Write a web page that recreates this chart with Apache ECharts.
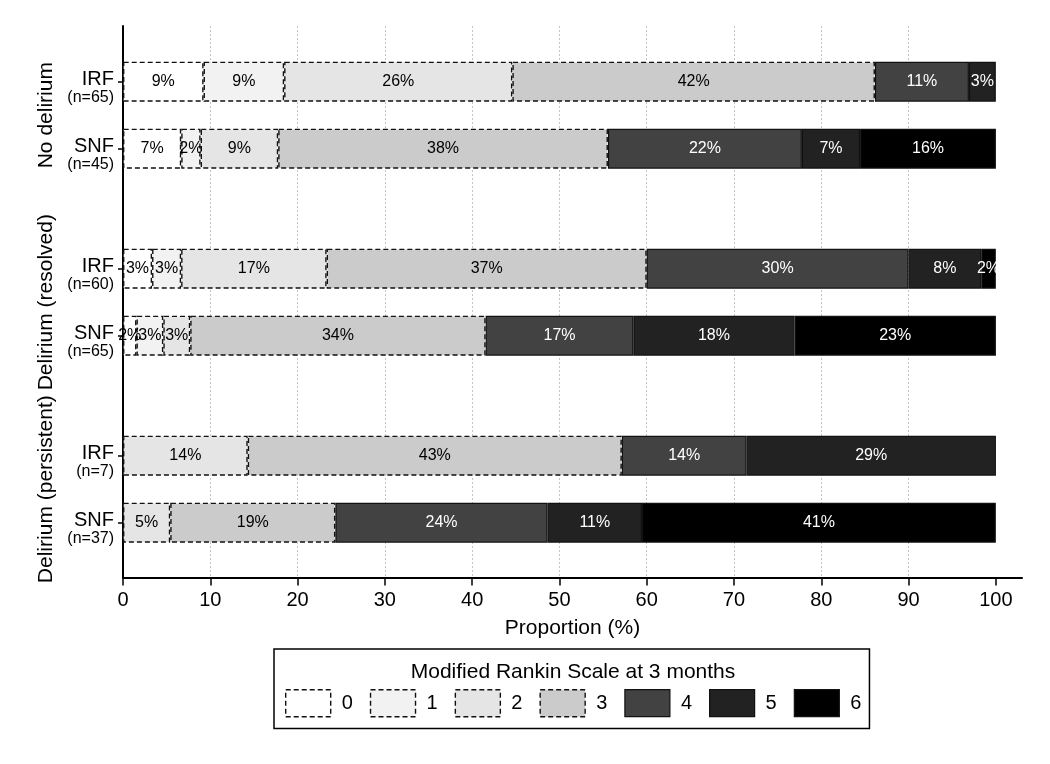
<!DOCTYPE html>
<html>
<head>
<meta charset="utf-8">
<script src="https://cdn.jsdelivr.net/npm/echarts@6/dist/echarts.min.js"></script>
<style>html,body{margin:0;padding:0;background:#fff}#c{width:1050px;height:764px}</style>
</head>
<body>
<div id="c"></div>
<script>
// ---- data (percent of patients at each Modified Rankin Scale level 0..6) ----
const mrsLevels = ['0', '1', '2', '3', '4', '5', '6'];
const groups = ['No delirium', 'Delirium (resolved)', 'Delirium (persistent)'];
const settings = ['IRF', 'SNF'];
const groupN = [[65, 45], [60, 65], [7, 37]];
const noDelIRF = [9.23, 9.23, 26.15, 41.54, 10.77, 3.08, 0];
const noDelSNF = [6.67, 2.22, 8.89, 37.78, 22.22, 6.67, 15.56];
const resIRF = [3.33, 3.33, 16.67, 36.67, 30.00, 8.33, 1.67];
const resSNF = [1.54, 3.08, 3.08, 33.85, 16.92, 18.46, 23.08];
const perIRF = [0, 0, 14.29, 42.86, 14.29, 28.57, 0];
const perSNF = [0, 0, 5.41, 18.92, 24.32, 10.81, 40.54];
const xTicks = [0, 10, 20, 30, 40, 50, 60, 70, 80, 90, 100];

const rows = [[noDelIRF, noDelSNF], [resIRF, resSNF], [perIRF, perSNF]];
const fills = ['#ffffff', '#f2f2f2', '#e5e5e5', '#cbcbcb', '#424242', '#222222', '#000000'];
const FONT = '"Liberation Sans", Arial, sans-serif';

function styleFor(k) {
  const light = k <= 3;
  return {
    color: fills[k],
    borderColor: '#111',
    borderWidth: light ? 1.4 : 1.2,
    borderType: light ? [5, 3] : 'solid'
  };
}

const grids = [];
const xAxes = [];
const yAxes = [];
const series = [];
for (let g = 0; g < 3; g++) {
  grids.push({ left: 123, right: 28, top: 48.2 + g * 187, height: 134 });
  xAxes.push({ gridIndex: g, type: 'value', min: 0, max: 103, show: false });
  yAxes.push({
    gridIndex: g, type: 'category', inverse: true, data: settings,
    name: groups[g], nameLocation: 'middle', nameRotate: 90, nameGap: 64,
    nameTextStyle: { fontSize: 21, color: '#000', fontFamily: FONT },
    axisLine: { show: false },
    axisTick: { show: true, alignWithLabel: true, length: 5, lineStyle: { color: '#000', width: 1.5 } },
    axisLabel: {
      margin: 9, align: 'right', padding: [12, 0, 0, 0],
      formatter: (v, i) => '{a|' + v + '}\n{b|(n=' + groupN[g][i] + ')}',
      rich: {
        a: { fontSize: 20, color: '#000', fontFamily: FONT, align: 'right', lineHeight: 20 },
        b: { fontSize: 16, color: '#000', fontFamily: FONT, align: 'right', lineHeight: 16 }
      }
    }
  });
  for (let k = 0; k < 7; k++) {
    const light = k <= 3;
    series.push({
      name: mrsLevels[k], type: 'bar', xAxisIndex: g, yAxisIndex: g,
      stack: 'grp' + g, barWidth: 40,
      data: [rows[g][0][k], rows[g][1][k]].map(v => v > 0 ? v : '-'),
      itemStyle: styleFor(k),
      label: {
        show: true, position: 'inside', fontSize: 16, fontFamily: FONT,
        color: light ? '#000' : '#fff',
        formatter: p => Math.round(p.value) + '%'
      },
      emphasis: { disabled: true }
    });
  }
}
// background frame grid with the shared x axis, gridlines and y axis line
grids.push({ left: 123, right: 28, top: 26, bottom: 186.5 });
xAxes.push({
  gridIndex: 3, type: 'value', min: 0, max: 103, interval: 10,
  name: 'Proportion (%)', nameLocation: 'middle', nameGap: 40,
  nameTextStyle: { fontSize: 21, color: '#000', fontFamily: FONT },
  axisLine: { show: true, lineStyle: { color: '#000', width: 2 } },
  axisTick: { show: true, length: 8, customValues: xTicks, lineStyle: { color: '#000', width: 1.5 } },
  axisLabel: { fontSize: 20, color: '#000', fontFamily: FONT, margin: 13, customValues: xTicks,
    formatter: v => (v <= 100 ? String(v) : '') },
  splitLine: { show: true, showMinLine: false, showMaxLine: false,
    lineStyle: { color: '#c4c4c4', type: [2, 2], width: 1 } }
});
yAxes.push({
  gridIndex: 3, type: 'value', min: 0, max: 1,
  axisLine: { show: true, lineStyle: { color: '#000', width: 2 } },
  axisTick: { show: false }, axisLabel: { show: false }, splitLine: { show: false }
});

const chart = echarts.init(document.getElementById('c'), null, { renderer: 'canvas' });
chart.setOption({
  animation: false,
  backgroundColor: '#fff',
  textStyle: { fontFamily: FONT },
  grid: grids,
  xAxis: xAxes,
  yAxis: yAxes,
  series: series,
  legend: {
    data: mrsLevels.map((m, k) => ({ name: m, icon: 'rect', itemStyle: styleFor(k) })),
    left: 274, top: 649, orient: 'horizontal',
    padding: [40, 8, 11, 11], itemGap: 17, itemWidth: 45, itemHeight: 27,
    borderColor: '#000', borderWidth: 1.5, selectedMode: false,
    textStyle: { fontSize: 20, color: '#000', fontFamily: FONT, padding: [0, 0, 0, 6] }
  },
  graphic: [{
    type: 'text', x: 573, y: 672,
    style: { text: 'Modified Rankin Scale at 3 months', fontSize: 21, fontFamily: FONT,
      fill: '#000', textAlign: 'center', textVerticalAlign: 'middle' }
  }]
});
</script>
</body>
</html>
